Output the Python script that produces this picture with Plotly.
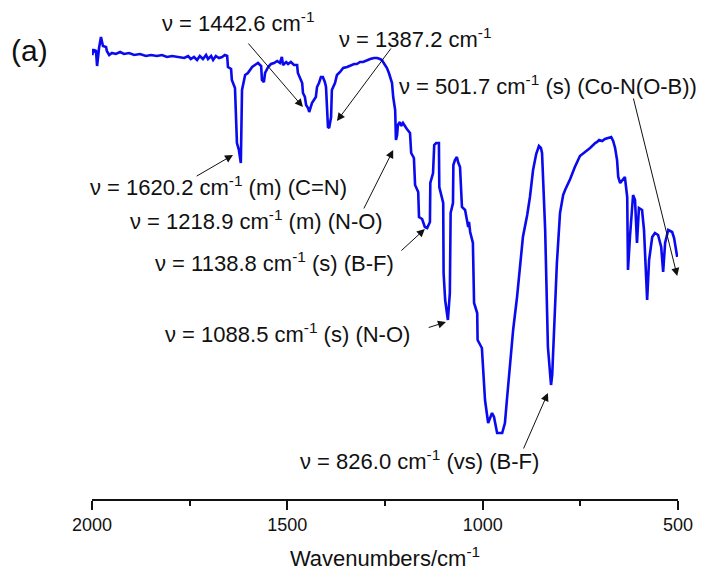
import plotly.graph_objects as go

# IR spectrum: wavenumber (cm-1) and transmittance (a.u.)
wavenumber = [2000, 1999, 1997, 1995, 1990, 1987, 1982, 1977, 1972, 1964, 1962, 1956, 1949, 1939,
              1928, 1918, 1905, 1892, 1877, 1862, 1849, 1834, 1821, 1808, 1795, 1780, 1764, 1754,
              1747, 1739, 1731, 1724, 1716, 1708, 1703, 1695, 1690, 1683, 1675, 1667, 1660, 1654,
              1652, 1644, 1642, 1634, 1629, 1624, 1619, 1616, 1608, 1601, 1590, 1583, 1575, 1567,
              1565, 1560, 1557, 1549, 1542, 1534, 1526, 1519, 1514, 1511, 1503, 1498, 1491, 1483,
              1475, 1473, 1468, 1462, 1460, 1455, 1452, 1447, 1444, 1439, 1437, 1432, 1427, 1424,
              1419, 1414, 1409, 1404, 1401, 1396, 1393, 1388, 1386, 1378, 1373, 1365, 1357, 1347,
              1340, 1329, 1322, 1314, 1306, 1296, 1288, 1278, 1270, 1263, 1258, 1250, 1245, 1240,
              1232, 1229, 1224, 1222, 1219, 1217, 1212, 1209, 1204, 1194, 1186, 1183, 1176, 1173,
              1165, 1163, 1155, 1148, 1142, 1135, 1134, 1127, 1124, 1119, 1112, 1111, 1101, 1100,
              1096, 1089, 1084, 1082, 1076, 1075, 1071, 1066, 1063, 1058, 1053, 1045, 1040, 1037,
              1035, 1032, 1025, 1022, 1014, 1013, 1002, 999, 994, 986, 981, 976, 971, 966, 963,
              950, 943, 938, 930, 922, 912, 904, 897, 886, 879, 871, 863, 856, 851, 848, 840, 833,
              828, 825, 822, 817, 810, 802, 794, 789, 776, 764, 751, 738, 725, 712, 707, 702, 694,
              687, 679, 671, 666, 661, 656, 653, 648, 643, 636, 630, 628, 623, 615, 610, 605, 600,
              592, 587, 579, 574, 566, 559, 551, 543, 538, 533, 525, 515, 510, 502]
transmittance = [89.6, 88.8, 90.0, 89.4, 89.8, 86.6, 90.2, 92.4, 90.6, 90.4, 89.6, 88.8, 89.2, 89.0,
                 89.4, 89.0, 89.2, 88.8, 89.0, 88.6, 88.8, 88.6, 88.8, 88.4, 88.6, 88.4, 88.2, 88.6,
                 88.0, 88.4, 87.8, 88.6, 88.0, 88.8, 88.0, 88.6, 87.8, 88.6, 88.2, 88.4, 88.8, 88.6,
                 86.4, 86.0, 83.8, 82.2, 71.2, 69.8, 67.2, 81.8, 84.8, 85.2, 86.4, 86.8, 87.2, 86.6,
                 83.8, 83.4, 85.2, 86.4, 87.0, 87.2, 87.6, 87.2, 88.4, 86.8, 87.4, 87.0, 87.4, 86.8,
                 86.8, 85.2, 84.4, 83.2, 81.2, 80.4, 78.8, 78.2, 77.4, 78.8, 79.2, 79.8, 80.4, 82.4,
                 83.2, 84.4, 84.4, 83.4, 82.4, 74.4, 74.2, 76.4, 81.8, 83.2, 84.8, 85.4, 86.2, 86.4,
                 86.6, 87.0, 87.0, 87.4, 87.4, 87.8, 88.0, 88.2, 88.2, 88.0, 87.8, 86.8, 86.2, 85.2,
                 83.2, 80.4, 77.8, 71.8, 72.8, 74.8, 75.4, 74.6, 75.2, 74.0, 73.2, 69.2, 68.2, 62.8,
                 61.4, 56.4, 56.0, 54.4, 54.2, 55.4, 63.2, 65.2, 70.8, 71.2, 71.2, 62.4, 59.2, 45.2,
                 39.8, 35.8, 41.2, 57.2, 59.2, 66.8, 67.8, 68.4, 67.4, 66.4, 58.4, 57.8, 55.2, 54.4,
                 55.4, 53.4, 51.2, 39.2, 37.2, 31.8, 30.2, 25.2, 19.8, 15.2, 16.2, 17.2, 16.4, 14.2, 13.2,
                 13.2, 15.2, 19.8, 27.2, 33.8, 40.4, 46.8, 52.4, 56.8, 60.4, 65.8, 69.0, 70.6, 70.2, 69.2, 53.8, 30.4,
                 24.8, 22.8, 24.8, 33.8, 47.2, 57.2, 60.8, 61.8, 64.0, 66.4, 68.6, 69.4, 70.2, 71.2, 71.4, 71.8, 71.6,
                 72.0, 72.2, 72.4, 71.6, 70.2, 67.8, 64.4, 63.2, 63.8, 64.4, 60.4, 45.8, 52.4, 60.8, 59.8, 51.2, 58.2,
                 57.8, 53.8, 39.8, 47.8, 52.4, 53.2, 52.8, 50.4, 45.4, 51.2, 53.8, 53.4, 52.2, 48.4]

tick_values = [2000, 1500, 1000, 500]
tick_labels = ["2000", "1500", "1000", "500"]

# Band labels (text placed in paper fractions, arrows in data units)
label_texts = [
    "ν = 1442.6 cm<sup>-1</sup>",
    "ν = 1387.2 cm<sup>-1</sup>",
    "ν = 501.7 cm<sup>-1</sup> (s) (Co-N(O-B))",
    "ν = 1620.2 cm<sup>-1</sup> (m) (C=N)",
    "ν = 1218.9 cm<sup>-1</sup> (m) (N-O)",
    "ν = 1138.8 cm<sup>-1</sup> (s) (B-F)",
    "ν = 1088.5 cm<sup>-1</sup> (s) (N-O)",
    "ν = 826.0 cm<sup>-1</sup> (vs) (B-F)",
]
label_px = [0.116, 0.418, 0.520, -0.007, 0.061, 0.104, 0.121, 0.352]
label_py = [1.015, 0.981, 0.881, 0.666, 0.594, 0.504, 0.353, 0.083]
arrow_tail_x = [1603, 1232, 615, 1736, 1306, 1212, 1142, 897]
arrow_tail_y = [91.4, 90.4, 80.4, 64.4, 57.8, 49.4, 34.2, 9.8]
arrow_head_x = [1460, 1373, 502, 1639, 1229, 1148, 1094, 833]
arrow_head_y = [78.4, 75.6, 44.6, 68.8, 69.8, 54.0, 35.4, 21.2]

FONT = "Liberation Sans, Arial, sans-serif"

fig = go.Figure()
fig.add_trace(go.Scatter(x=wavenumber, y=transmittance, mode="lines",
                         line=dict(color="#0a0aee", width=2.6), hoverinfo="skip",
                         showlegend=False))

annotations = []
for t, x, y in zip(label_texts, label_px, label_py):
    annotations.append(dict(x=x, y=y, xref="paper", yref="paper", text=t, showarrow=False,
                            xanchor="left", yanchor="middle",
                            font=dict(family=FONT, size=22, color="#111")))
for tx, ty, hx, hy in zip(arrow_tail_x, arrow_tail_y, arrow_head_x, arrow_head_y):
    annotations.append(dict(x=hx, y=hy, xref="x", yref="y", ax=tx, ay=ty,
                            axref="x", ayref="y", text="", showarrow=True,
                            arrowhead=2, arrowsize=1.6, arrowwidth=1, arrowcolor="#111",
                            standoff=0, startstandoff=0))
annotations.append(dict(x=-0.106, y=0.955, xref="paper", yref="paper", text="(a)",
                        showarrow=False, xanchor="center", yanchor="middle",
                        font=dict(family=FONT, size=30, color="#111")))

fig.update_layout(
    width=706, height=575,
    margin=dict(l=84, r=36, t=21, b=84),
    paper_bgcolor="white", plot_bgcolor="white",
    font=dict(family=FONT, color="#111"),
    annotations=annotations,
    xaxis=dict(range=[2000, 500], tickvals=tick_values, ticktext=tick_labels,
               showline=True, linecolor="#111", linewidth=1.5, mirror=False,
               ticks="outside", ticklen=9, tickwidth=1.5, tickcolor="#111",
               minor=dict(dtick=250, tick0=500, ticks="outside", ticklen=5, tickwidth=1.5,
                          tickcolor="#111"),
               showgrid=False, zeroline=False,
               tickfont=dict(family=FONT, size=18, color="#111"),
               title=dict(text="Wavenumbers/cm<sup>-1</sup>", standoff=16,
                          font=dict(family=FONT, size=22, color="#111"))),
    yaxis=dict(range=[0, 94], visible=False, showgrid=False, zeroline=False),
)

fig.write_html("out.html")
